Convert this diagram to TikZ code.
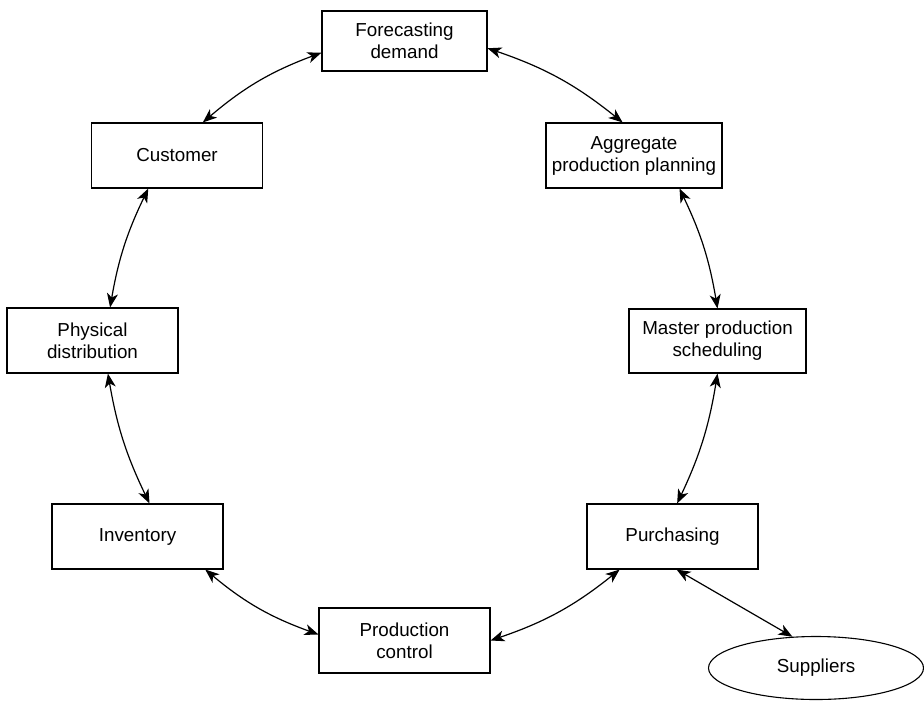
\documentclass[tikz,border=0pt]{standalone}
\usepackage{fontspec}
\setmainfont{Liberation Sans}
\usepackage{tikz}
\usetikzlibrary{shapes.geometric, arrows.meta}

\begin{document}
\begin{tikzpicture}[
    x=0.5pt, y=-0.5pt,
    font=\fontsize{9.4}{11}\selectfont,
    box/.style={
        rectangle,
        draw,
        line width=0.55pt,
        minimum width=85.5pt,
        minimum height=32.5pt,
        inner sep=2pt,
        align=center
    },
    arrow/.style={{Stealth[length=7pt,width=5.5pt,inset=2pt]}-{Stealth[length=7pt,width=5.5pt,inset=2pt]},line width=0.6pt}
]
\useasboundingbox (0,0) rectangle (924,701);

\node[box, minimum width=82.5pt, minimum height=30pt] (forecast) at (404.5,41) {Forecasting\\demand};
\node[box] (customer) at (177,155.5) {Customer};
\node[box, minimum width=88pt] (aggregate) at (634,155.5) {Aggregate\\production planning};
\node[box] (distribution) at (92.5,340.5) {Physical\\distribution};
\node[box, minimum width=88.5pt, minimum height=32pt] (master) at (717.5,341) {Master production\\scheduling};
\node[box] (inventory) at (137.5,536.5) {Inventory};
\node[box] (purchasing) at (672.5,536.5) {Purchasing};
\node[box] (control) at (404.5,640.5) {Production\\control};
\node[ellipse, draw, line width=0.55pt, minimum width=107.5pt, minimum height=31.5pt] (suppliers) at (816,668) {Suppliers};

\draw[arrow] (forecast.-5) to[bend left=10] (aggregate.109);
\draw[arrow] (aggregate.-36) to[bend left=8] (master.north);
\draw[arrow] (master.south) to[bend left=8] (purchasing.82);
\draw[arrow] (purchasing.212) to[bend left=10] (control.east);
\draw[arrow] (control.176) to[bend left=10] (inventory.-26);
\draw[arrow] (inventory.70) to[bend left=8] (distribution.-65);
\draw[arrow] (distribution.62) to[bend left=8] (customer.229);
\draw[arrow] (customer.52) to[bend left=10] (forecast.188);
\draw[arrow] (purchasing.-83) -- (suppliers.127);

\end{tikzpicture}
\end{document}
